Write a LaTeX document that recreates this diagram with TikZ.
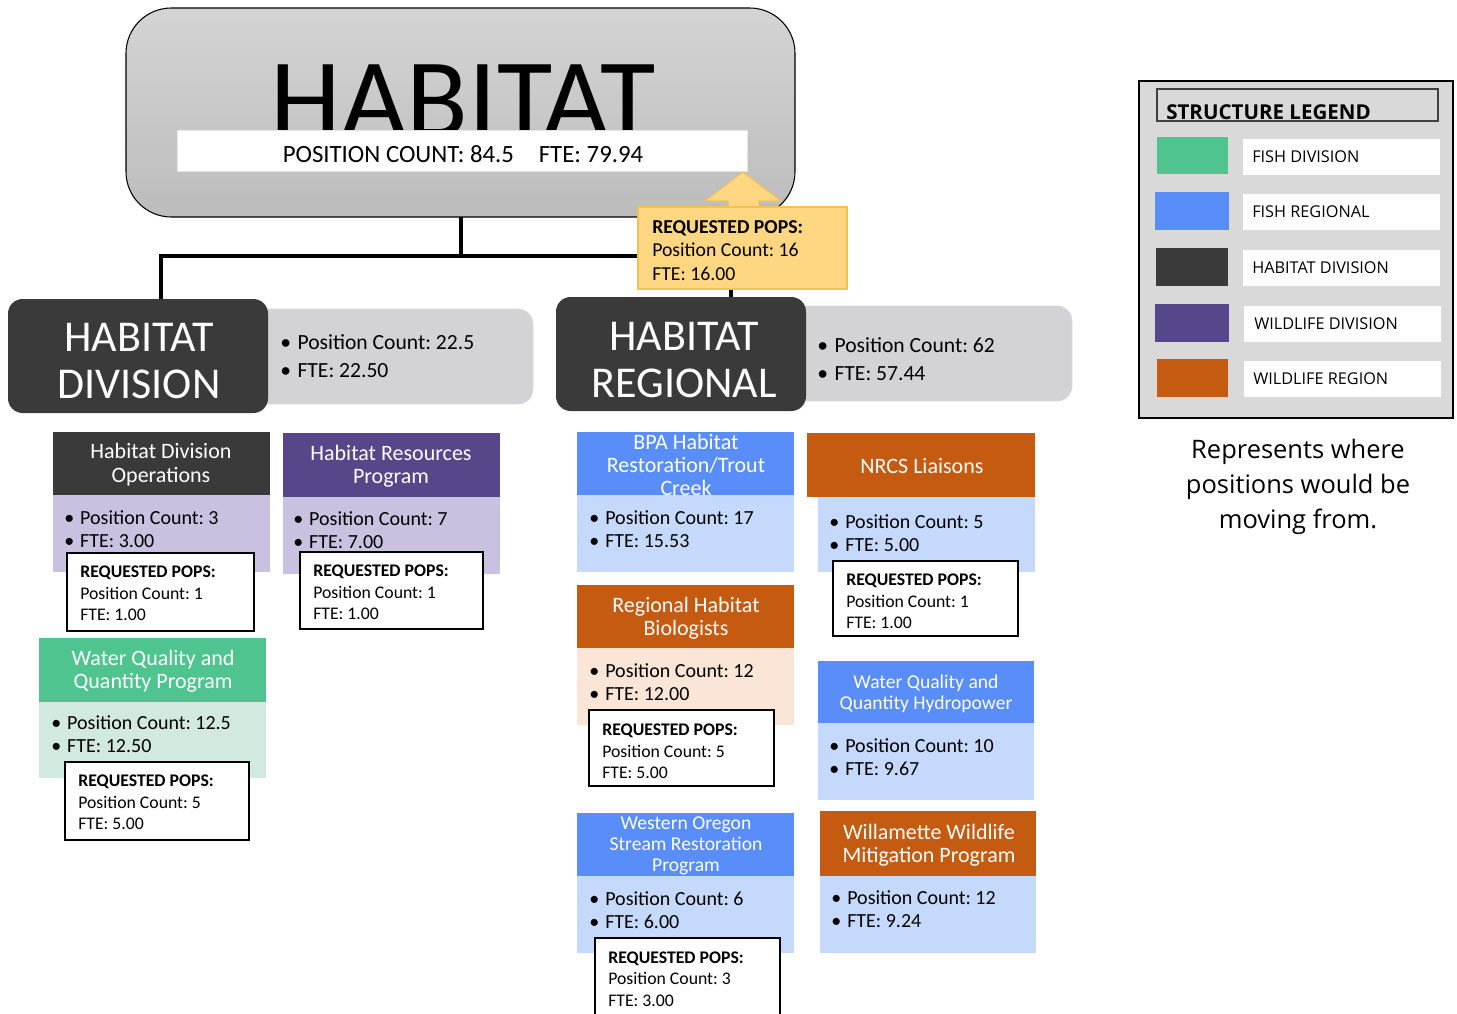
\documentclass[tikz,border=0pt]{standalone}
\usepackage{fontspec}
\setmainfont{Carlito}
\newfontfamily\legendfont{Open Sans}
\usetikzlibrary{calc, fit, positioning}
\frenchspacing

\definecolor{hdark}{HTML}{3B3A3A}
\definecolor{hpurple}{HTML}{58468B}
\definecolor{hlav}{HTML}{C9C1DF}
\definecolor{hgreen}{HTML}{4FC48E}
\definecolor{hmint}{HTML}{D1E9DF}
\definecolor{hblue}{HTML}{598EFA}
\definecolor{hsky}{HTML}{C5D9FC}
\definecolor{horange}{HTML}{C55A11}
\definecolor{hpeach}{HTML}{FBE5D6}
\definecolor{hgray}{HTML}{D3D2D4}
\definecolor{hedge}{HTML}{D5DDEC}
\definecolor{hyellow}{HTML}{FFD783}
\definecolor{hgold}{HTML}{F2C14E}
\definecolor{hsilvertop}{HTML}{D4D4D4}
\definecolor{hsilverbot}{HTML}{BCBCBC}
\definecolor{hlegend}{HTML}{D9D9D9}

\newcommand{\bl}[1]{\makebox[0.8em][l]{\textbullet}#1}

\tikzset{
  cell/.style={inner sep=0pt, outer sep=0pt},
  head/.style={text=white, align=center, font=\fontsize{16.5}{17.5}\selectfont},
  smallhead/.style={text=white, align=center, font=\fontsize{14.7}{15.6}\selectfont},
  bullets/.style={anchor=west, align=left, inner sep=0pt, font=\fontsize{15}{17.25}\selectfont},
  bigbullets/.style={anchor=west, align=left, inner sep=0pt, font=\fontsize{16.2}{20.5}\selectfont},
  reqbox/.style={cell, draw=black, line width=1.5pt, fill=white},
  reqtext/.style={anchor=west, align=left, inner sep=0pt, font=\fontsize{13.3}{16.1}\selectfont},
  link/.style={line width=3pt},
  keybox/.style={cell, fill=white, draw=black!15, line width=0.8pt},
  keytext/.style={anchor=west, inner sep=0pt, font=\legendfont\fontsize{12.2}{14}\selectfont},
}

\begin{document}
\begin{tikzpicture}[x=0.75pt, y=-0.75pt]
\useasboundingbox (0,0) rectangle (1457,1014);

% top of the chart
\node[cell, fit={(126,8) (795,217)}, draw=black, line width=0.8pt, rounded corners=34pt,
  top color=hsilvertop, bottom color=hsilverbot] (habitat) {};
\node[anchor=base, inner sep=0pt, font=\fontsize{85}{85}\selectfont] (habitatTitle) at (463,137) {HABITAT};
\node[cell, fit={(177,130) (747,171)}, fill=white, draw=black!10] (habitatCount) {};
\node[inner sep=0pt, font=\fontsize{18.6}{20}\selectfont] (habitatCountText) at (463,154) {POSITION COUNT: 84.5\quad FTE: 79.94};

% second level
\node[cell, fit={(250,309) (533,404)}, fill=hgray, draw=hedge, rounded corners=11pt] (divInfo) {};
\node[bigbullets] (divInfoText) at (280,356) {\bl{Position Count: 22.5}\\\bl{FTE: 22.50}};
\node[cell, fit={(8,299) (268,413)}, fill=hdark, rounded corners=11pt] (habDiv) {};
\node[text=white, align=center, font=\fontsize{33}{35}\selectfont] (habDivText) at (139,361) {HABITAT\\DIVISION};

\node[cell, fit={(790,306) (1072,401)}, fill=hgray, draw=hedge, rounded corners=11pt] (regInfo) {};
\node[bigbullets] (regInfoText) at (817,359) {\bl{Position Count: 62}\\\bl{FTE: 57.44}};
\node[cell, fit={(556,297) (806,411)}, fill=hdark, rounded corners=11pt] (habReg) {};
\node[text=white, align=center, font=\fontsize{33}{35}\selectfont] (habRegText) at (684,360) {HABITAT\\REGIONAL};

% connectors
\coordinate (split) at (458,256);
\draw[link] (habitat.south) -- (habitat.south |- split);
\draw[link] ([xshift=17.25pt]habDiv.north) -- ([xshift=17.25pt]habDiv.north |- split)
  -- ([xshift=37.5pt]habReg.north |- split) -- ([xshift=37.5pt]habReg.north);

% requested pops for the whole of habitat
\filldraw[fill=hyellow, draw=hgold, line width=0.8pt] (728,208) -- (728,201) -- (705,201) -- (743,172)
  -- (781,201) -- (759,201) -- (759,208);
\node[cell, fit={(638,207) (847,289)}, fill=hyellow, draw=hgold, line width=0.8pt] (topReq) {};
\node[anchor=west, align=left, inner sep=0pt, font=\fontsize{14.8}{17.6}\selectfont] (topReqText) at (652,250.5)
  {\textbf{REQUESTED POPS:}\\Position Count: 16\\FTE: 16.00};

% habitat division programs
\node[cell, fit={(53,432) (270,495)}, fill=hdark] (opsHead) {};
\node[head] (opsHeadText) at (161,464.5) {Habitat Division\\Operations};
\node[cell, fit={(53,495) (270,572)}, fill=hlav] (opsBody) {};
\node[bullets] (opsBodyText) at (64,529.5) {\bl{Position Count: 3}\\\bl{FTE: 3.00}};
\node[reqbox, fit={(67,553) (254,631)}] (opsReq) {};
\node[reqtext] (opsReqText) at (80,593.5) {\textbf{REQUESTED POPS:}\\Position Count: 1\\FTE: 1.00};

\node[cell, fit={(283,433) (500,497)}, fill=hpurple] (resHead) {};
\node[head] (resHeadText) at (391,466) {Habitat Resources\\Program};
\node[cell, fit={(283,497) (500,574)}, fill=hlav] (resBody) {};
\node[bullets] (resBodyText) at (293,530.5) {\bl{Position Count: 7}\\\bl{FTE: 7.00}};
\node[reqbox, fit={(300,552) (483,629)}] (resReq) {};
\node[reqtext] (resReqText) at (313,592.5) {\textbf{REQUESTED POPS:}\\Position Count: 1\\FTE: 1.00};

\node[cell, fit={(39,638) (266,702)}, fill=hgreen] (wqHead) {};
\node[head] (wqHeadText) at (153,671) {Water Quality and\\Quantity Program};
\node[cell, fit={(39,702) (266,778)}, fill=hmint] (wqBody) {};
\node[bullets] (wqBodyText) at (51,734.5) {\bl{Position Count: 12.5}\\\bl{FTE: 12.50}};
\node[reqbox, fit={(65,762) (249,840)}] (wqReq) {};
\node[reqtext] (wqReqText) at (78,802.5) {\textbf{REQUESTED POPS:}\\Position Count: 5\\FTE: 5.00};

% habitat regional programs
\node[cell, fit={(577,432) (794,495)}, fill=hblue] (bpaHead) {};
\node[head] (bpaHeadText) at (686,465) {BPA Habitat\\Restoration/Trout\\Creek};
\node[cell, fit={(577,495) (794,572)}, fill=hsky] (bpaBody) {};
\node[bullets] (bpaBodyText) at (589,529) {\bl{Position Count: 17}\\\bl{FTE: 15.53}};

\node[cell, fit={(577,585) (794,648)}, fill=horange] (rhbHead) {};
\node[head] (rhbHeadText) at (686,618) {Regional Habitat\\Biologists};
\node[cell, fit={(577,648) (794,725)}, fill=hpeach] (rhbBody) {};
\node[bullets] (rhbBodyText) at (589,682.5) {\bl{Position Count: 12}\\\bl{FTE: 12.00}};
\node[reqbox, fit={(589,710) (774,786)}] (rhbReq) {};
\node[reqtext] (rhbReqText) at (602,751.5) {\textbf{REQUESTED POPS:}\\Position Count: 5\\FTE: 5.00};

\node[cell, fit={(577,813) (794,876)}, fill=hblue] (wosHead) {};
\node[smallhead] (wosHeadText) at (686,846) {Western Oregon\\Stream Restoration\\Program};
\node[cell, fit={(577,876) (794,953)}, fill=hsky] (wosBody) {};
\node[bullets] (wosBodyText) at (589,910.5) {\bl{Position Count: 6}\\\bl{FTE: 6.00}};
\node[reqbox, fit={(595,938) (780,1022)}] (wosReq) {};
\node[reqtext] (wosReqText) at (608,979) {\textbf{REQUESTED POPS:}\\Position Count: 3\\FTE: 3.00};

\node[cell, fit={(807,433) (1035,497)}, fill=horange] (nrcsHead) {};
\node[head] (nrcsHeadText) at (922,466) {NRCS Liaisons};
\node[cell, fit={(818,497) (1035,572)}, fill=hsky] (nrcsBody) {};
\node[bullets] (nrcsBodyText) at (829,533) {\bl{Position Count: 5}\\\bl{FTE: 5.00}};
\node[reqbox, fit={(833,561) (1018,636)}] (nrcsReq) {};
\node[reqtext] (nrcsReqText) at (846,601.5) {\textbf{REQUESTED POPS:}\\Position Count: 1\\FTE: 1.00};

\node[cell, fit={(818,661) (1034,723)}, fill=hblue] (wqhHead) {};
\node[smallhead] (wqhHeadText) at (926,693.5) {Water Quality and\\Quantity Hydropower};
\node[cell, fit={(818,723) (1034,800)}, fill=hsky] (wqhBody) {};
\node[bullets] (wqhBodyText) at (829,757) {\bl{Position Count: 10}\\\bl{FTE: 9.67}};

\node[cell, fit={(820,811) (1036,876)}, fill=horange] (wilHead) {};
\node[head] (wilHeadText) at (929,845) {Willamette Wildlife\\Mitigation Program};
\node[cell, fit={(820,876) (1036,953)}, fill=hsky] (wilBody) {};
\node[bullets] (wilBodyText) at (831,909.5) {\bl{Position Count: 12}\\\bl{FTE: 9.24}};

% legend
\node[cell, fit={(1139,81) (1453,418)}, fill=hlegend, draw=black, line width=2.2pt] (legend) {};
\node[cell, fit={(1157,89) (1438,121)}, draw=black!75, line width=0.8pt] (legendTitle) {};
\node[anchor=base west, inner sep=0pt, font=\legendfont\bfseries\fontsize{15.4}{17}\selectfont] (legendTitleText) at (1166,119) {STRUCTURE LEGEND};

\node[cell, fit={(1157,137) (1228,174)}, fill=hgreen] (keyFishDiv) {};
\node[keybox, fit={(1242,138) (1441,176)}] (keyFishDivBox) {};
\node[keytext] (keyFishDivText) at (1252,157) {FISH DIVISION};

\node[cell, fit={(1155,192) (1229,230)}, fill=hblue] (keyFishReg) {};
\node[keybox, fit={(1242,193) (1441,231)}] (keyFishRegBox) {};
\node[keytext] (keyFishRegText) at (1252,212) {FISH REGIONAL};

\node[cell, fit={(1156,248) (1228,286)}, fill=hdark] (keyHabDiv) {};
\node[keybox, fit={(1242,249) (1441,287)}] (keyHabDivBox) {};
\node[keytext] (keyHabDivText) at (1252,268) {HABITAT DIVISION};

\node[cell, fit={(1155,304) (1229,342)}, fill=hpurple] (keyWildDiv) {};
\node[keybox, fit={(1243,305) (1442,343)}] (keyWildDivBox) {};
\node[keytext] (keyWildDivText) at (1254,324) {WILDLIFE DIVISION};

\node[cell, fit={(1157,359) (1228,397)}, fill=horange] (keyWildReg) {};
\node[keybox, fit={(1243,360) (1442,398)}] (keyWildRegBox) {};
\node[keytext] (keyWildRegText) at (1253,379) {WILDLIFE REGION};

\node[align=center, inner sep=0pt, font=\legendfont\fontsize{19.1}{26}\selectfont] (legendNote) at (1298,487)
  {Represents where\\positions would be\\moving from.};
\end{tikzpicture}
\end{document}
